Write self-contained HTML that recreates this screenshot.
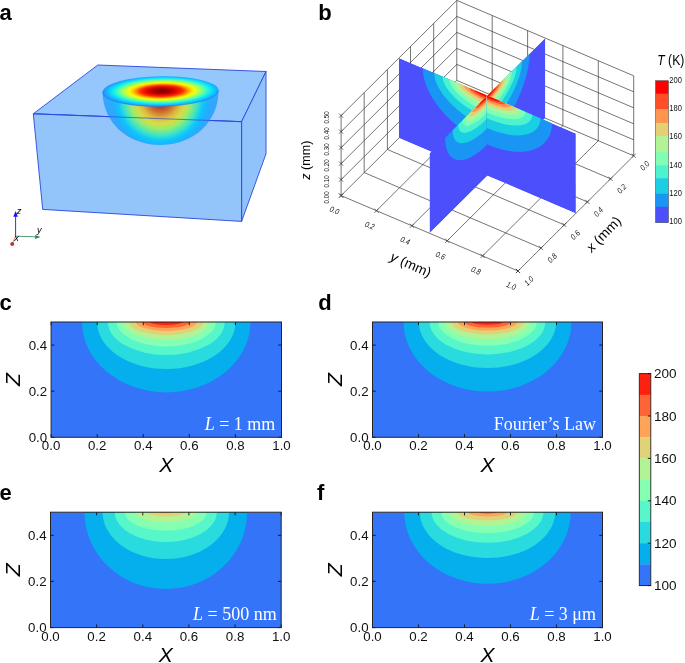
<!DOCTYPE html>
<html><head><meta charset="utf-8"><title>figure</title>
<style>
html,body{margin:0;padding:0;background:#fff;}
svg{display:block;will-change:transform;}
text{font-family:"Liberation Sans",sans-serif;fill:#000;}
.serif{font-family:"Liberation Serif",serif;fill:#fff;}
.lbl{font-weight:bold;font-size:22px;}
.tk{font-size:12.5px;fill:#111;}
.ax{font-size:21px;font-style:italic;}
.g{stroke:#3a3a3a;stroke-width:0.7;fill:none;}
.t3{font-size:8px;font-style:italic;fill:#111;}
</style></head><body>
<svg width="685" height="663" viewBox="0 0 685 663">
<rect x="0" y="0" width="685" height="663" fill="#fff"/>

<text class="lbl" x="-0.4" y="20.2">a</text>
<text class="lbl" x="318.3" y="20.2">b</text>
<text class="lbl" x="-0.4" y="310.3">c</text>
<text class="lbl" x="318.3" y="309.8">d</text>
<text class="lbl" x="-0.4" y="500.3">e</text>
<text class="lbl" x="317" y="500.3">f</text>
<defs>
<radialGradient id="gtop" cx="0.51" cy="0.49" r="0.5">
<stop offset="0" stop-color="#800000"/>
<stop offset="0.12" stop-color="#980000"/>
<stop offset="0.24" stop-color="#d80400"/>
<stop offset="0.36" stop-color="#ff2800"/>
<stop offset="0.44" stop-color="#ff8800"/>
<stop offset="0.51" stop-color="#ffd800"/>
<stop offset="0.57" stop-color="#f0ff10"/>
<stop offset="0.65" stop-color="#b0ff50"/>
<stop offset="0.73" stop-color="#60ffa0"/>
<stop offset="0.82" stop-color="#18f0e8"/>
<stop offset="0.91" stop-color="#0cc8ff"/>
<stop offset="1" stop-color="#2496fa"/>
</radialGradient>
<radialGradient id="gbowl" gradientUnits="userSpaceOnUse" cx="160.5" cy="100" r="50" gradientTransform="translate(160.5 100) scale(1 0.96) translate(-160.5 -100)">
<stop offset="0" stop-color="#b83418"/>
<stop offset="0.15" stop-color="#bc3e22"/>
<stop offset="0.27" stop-color="#d07830"/>
<stop offset="0.38" stop-color="#dcb83c"/>
<stop offset="0.49" stop-color="#d8dc44"/>
<stop offset="0.61" stop-color="#96ec6e"/>
<stop offset="0.74" stop-color="#3ce4c8"/>
<stop offset="0.85" stop-color="#0cc6fc"/>
<stop offset="0.94" stop-color="#20b0fe"/>
<stop offset="1" stop-color="#30a6fc"/>
</radialGradient>
<linearGradient id="gbowlshade" x1="0" y1="0" x2="0" y2="1">
<stop offset="0" stop-color="#5ab4fa" stop-opacity="0.2"/>
<stop offset="0.35" stop-color="#5ab4fa" stop-opacity="0"/>
</linearGradient>
</defs>

<polygon points="97.8,65.0 266.0,71.5 241.6,121.7 33.3,113.8" fill="#96c7fc" stroke="#2a46dc" stroke-width="0.9" stroke-linejoin="round"/>
<polygon points="241.6,121.7 266.0,71.5 266.0,153.8 241.6,221.4" fill="#90c3fb" stroke="#2a46dc" stroke-width="0.9" stroke-linejoin="round"/>
<polygon points="33.3,113.8 241.6,121.7 241.6,221.4 42.7,209.4" fill="#93c5fb" stroke="#2a46dc" stroke-width="0.9" stroke-linejoin="round"/>
<path d="M102.5,91.3 C102.5,121.3 126.5,145 160.5,145 C194.5,145 218.5,121.3 218.5,91.3 Z" fill="url(#gbowl)" transform="rotate(-1 160.5 91.3)"/>
<path d="M102.5,91.3 C102.5,121.3 126.5,145 160.5,145 C194.5,145 218.5,121.3 218.5,91.3 Z" fill="url(#gbowlshade)" transform="rotate(-1 160.5 91.3)"/>
<line x1="33.3" y1="113.8" x2="241.6" y2="121.7" stroke="#2a46dc" stroke-width="0.9" stroke-opacity="0.75"/>
<ellipse cx="160.5" cy="91.3" rx="58" ry="15.1" fill="url(#gtop)" transform="rotate(-1 160.5 91.3)"/>
<path d="M102.5,91.3 A58,15.1 0 0 0 218.5,91.3" fill="none" stroke="#1c6ee8" stroke-opacity="0.55" stroke-width="0.8" transform="rotate(-1 160.5 91.3)"/>
<line x1="15.6" y1="236.2" x2="15.6" y2="216" stroke="#1414ff" stroke-width="0.9"/>
<polygon points="15.6,211 13.3,216.8 17.9,216.8" fill="#1414ff"/>
<line x1="15.6" y1="236.2" x2="36" y2="236.8" stroke="#3c9068" stroke-width="0.9"/>
<polygon points="40.4,236.9 35.2,234.9 35.2,238.9" fill="#2e8b57"/>
<line x1="15.6" y1="236.2" x2="12.2" y2="243.9" stroke="#e07860" stroke-width="0.9"/>
<circle cx="12.2" cy="243.9" r="2" fill="#b83a2a"/>
<text x="16.8" y="213.8" style="font-size:9.2px;font-style:italic">z</text>
<text x="37" y="232.6" style="font-size:9.2px;font-style:italic">y</text>
<text x="14.2" y="241.4" style="font-size:9.2px;font-style:italic">x</text>
<path class="g" d="M456.8,80.4L633.7,155.8M456.8,80.4L341.1,195.6M456.8,80.4L456.8,0.4M433.7,103.4L610.6,178.8M492.2,95.5L376.5,210.7M433.7,103.4L433.7,23.4M492.2,95.5L492.2,15.5M410.5,126.5L587.4,201.9M527.6,110.6L411.9,225.8M410.5,126.5L410.5,46.5M527.6,110.6L527.6,30.6M387.4,149.5L564.3,224.9M562.9,125.6L447.2,240.8M387.4,149.5L387.4,69.5M562.9,125.6L562.9,45.6M364.2,172.6L541.1,248.0M598.3,140.7L482.6,255.9M364.2,172.6L364.2,92.6M598.3,140.7L598.3,60.7M341.1,195.6L518.0,271.0M633.7,155.8L518.0,271.0M341.1,195.6L341.1,115.6M633.7,155.8L633.7,75.8M456.8,64.4L341.1,179.6M456.8,64.4L633.7,139.8M456.8,48.4L341.1,163.6M456.8,48.4L633.7,123.8M456.8,32.4L341.1,147.6M456.8,32.4L633.7,107.8M456.8,16.4L341.1,131.6M456.8,16.4L633.7,91.8M456.8,0.4L341.1,115.6M456.8,0.4L633.7,75.8"/>
<path class="g" d="M339.0,193.5L343.2,197.7M339.0,197.7L343.2,193.5M339.0,193.5L343.2,197.7M339.0,197.7L343.2,193.5M515.9,268.9L520.1,273.1M515.9,273.1L520.1,268.9M339.0,177.5L343.2,181.7M339.0,181.7L343.2,177.5M374.4,208.6L378.6,212.8M374.4,212.8L378.6,208.6M539.0,245.9L543.2,250.1M539.0,250.1L543.2,245.9M339.0,161.5L343.2,165.7M339.0,165.7L343.2,161.5M409.8,223.7L414.0,227.9M409.8,227.9L414.0,223.7M562.2,222.8L566.4,227.0M562.2,227.0L566.4,222.8M339.0,145.5L343.2,149.7M339.0,149.7L343.2,145.5M445.1,238.7L449.3,242.9M445.1,242.9L449.3,238.7M585.3,199.8L589.5,204.0M585.3,204.0L589.5,199.8M339.0,129.5L343.2,133.7M339.0,133.7L343.2,129.5M480.5,253.8L484.7,258.0M480.5,258.0L484.7,253.8M608.5,176.7L612.7,180.9M608.5,180.9L612.7,176.7M339.0,113.5L343.2,117.7M339.0,117.7L343.2,113.5M515.9,268.9L520.1,273.1M515.9,273.1L520.1,268.9M631.6,153.7L635.8,157.9M631.6,157.9L635.8,153.7"/>
<clipPath id="cpx0"><rect x="0" y="0" width="0.5" height="0.5"/></clipPath><g transform="matrix(176.9 75.4 0.0 -160.0 398.95 138.00)"><g clip-path="url(#cpx0)"><rect x="0" y="0" width="0.5" height="0.5" fill="#4c4ffc"/><ellipse cx="0.5" cy="0.5" rx="0.3653" ry="0.3054" fill="#1996f3"/><ellipse cx="0.5" cy="0.5" rx="0.3002" ry="0.2039" fill="#1acee3"/><ellipse cx="0.5" cy="0.5" rx="0.2534" ry="0.1432" fill="#4df3ce"/><ellipse cx="0.5" cy="0.5" rx="0.2148" ry="0.1059" fill="#80ffb4"/><ellipse cx="0.5" cy="0.5" rx="0.1866" ry="0.0772" fill="#b2f396"/><ellipse cx="0.5" cy="0.5" rx="0.1605" ry="0.0564" fill="#e6ce74"/><ellipse cx="0.5" cy="0.5" rx="0.1323" ry="0.0390" fill="#ff964f"/><ellipse cx="0.5" cy="0.5" rx="0.1020" ry="0.0260" fill="#ff4f28"/><ellipse cx="0.5" cy="0.5" rx="0.0716" ry="0.0126" fill="#ff0000"/></g></g>
<clipPath id="cpy0"><rect x="0" y="0" width="0.5" height="0.5"/></clipPath><g transform="matrix(-115.7 115.2 0.0 -160.0 545.25 118.10)"><g clip-path="url(#cpy0)"><rect x="0" y="0" width="0.5" height="0.5" fill="#4c4ffc"/><ellipse cx="0.5" cy="0.5" rx="0.3653" ry="0.3054" fill="#1996f3"/><ellipse cx="0.5" cy="0.5" rx="0.3002" ry="0.2039" fill="#1acee3"/><ellipse cx="0.5" cy="0.5" rx="0.2534" ry="0.1432" fill="#4df3ce"/><ellipse cx="0.5" cy="0.5" rx="0.2148" ry="0.1059" fill="#80ffb4"/><ellipse cx="0.5" cy="0.5" rx="0.1866" ry="0.0772" fill="#b2f396"/><ellipse cx="0.5" cy="0.5" rx="0.1605" ry="0.0564" fill="#e6ce74"/><ellipse cx="0.5" cy="0.5" rx="0.1323" ry="0.0390" fill="#ff964f"/><ellipse cx="0.5" cy="0.5" rx="0.1020" ry="0.0260" fill="#ff4f28"/><ellipse cx="0.5" cy="0.5" rx="0.0716" ry="0.0126" fill="#ff0000"/></g></g>
<clipPath id="cpy1"><rect x="0.496" y="0" width="0.504" height="0.5"/></clipPath><g transform="matrix(-115.7 115.2 0.0 -160.0 545.25 118.10)"><g clip-path="url(#cpy1)"><rect x="0.496" y="0" width="0.504" height="0.5" fill="#4c4ffc"/><ellipse cx="0.5" cy="0.5" rx="0.3653" ry="0.3054" fill="#1996f3"/><ellipse cx="0.5" cy="0.5" rx="0.3002" ry="0.2039" fill="#1acee3"/><ellipse cx="0.5" cy="0.5" rx="0.2534" ry="0.1432" fill="#4df3ce"/><ellipse cx="0.5" cy="0.5" rx="0.2148" ry="0.1059" fill="#80ffb4"/><ellipse cx="0.5" cy="0.5" rx="0.1866" ry="0.0772" fill="#b2f396"/><ellipse cx="0.5" cy="0.5" rx="0.1605" ry="0.0564" fill="#e6ce74"/><ellipse cx="0.5" cy="0.5" rx="0.1323" ry="0.0390" fill="#ff964f"/><ellipse cx="0.5" cy="0.5" rx="0.1020" ry="0.0260" fill="#ff4f28"/><ellipse cx="0.5" cy="0.5" rx="0.0716" ry="0.0126" fill="#ff0000"/></g></g>
<clipPath id="cpx1"><rect x="0.496" y="0" width="0.504" height="0.5"/></clipPath><g transform="matrix(176.9 75.4 0.0 -160.0 398.95 138.00)"><g clip-path="url(#cpx1)"><rect x="0.496" y="0" width="0.504" height="0.5" fill="#4c4ffc"/><ellipse cx="0.5" cy="0.5" rx="0.3653" ry="0.3054" fill="#1996f3"/><ellipse cx="0.5" cy="0.5" rx="0.3002" ry="0.2039" fill="#1acee3"/><ellipse cx="0.5" cy="0.5" rx="0.2534" ry="0.1432" fill="#4df3ce"/><ellipse cx="0.5" cy="0.5" rx="0.2148" ry="0.1059" fill="#80ffb4"/><ellipse cx="0.5" cy="0.5" rx="0.1866" ry="0.0772" fill="#b2f396"/><ellipse cx="0.5" cy="0.5" rx="0.1605" ry="0.0564" fill="#e6ce74"/><ellipse cx="0.5" cy="0.5" rx="0.1323" ry="0.0390" fill="#ff964f"/><ellipse cx="0.5" cy="0.5" rx="0.1020" ry="0.0260" fill="#ff4f28"/><ellipse cx="0.5" cy="0.5" rx="0.0716" ry="0.0126" fill="#ff0000"/></g></g>
<text class="t3" style="font-style:normal" transform="translate(329.2 197.4) rotate(-90)" text-anchor="middle" textLength="12" lengthAdjust="spacingAndGlyphs">0.00</text>
<text class="t3" style="font-style:normal" transform="translate(329.2 181.4) rotate(-90)" text-anchor="middle" textLength="12" lengthAdjust="spacingAndGlyphs">0.10</text>
<text class="t3" style="font-style:normal" transform="translate(329.2 165.4) rotate(-90)" text-anchor="middle" textLength="12" lengthAdjust="spacingAndGlyphs">0.20</text>
<text class="t3" style="font-style:normal" transform="translate(329.2 149.4) rotate(-90)" text-anchor="middle" textLength="12" lengthAdjust="spacingAndGlyphs">0.30</text>
<text class="t3" style="font-style:normal" transform="translate(329.2 133.4) rotate(-90)" text-anchor="middle" textLength="12" lengthAdjust="spacingAndGlyphs">0.40</text>
<text class="t3" style="font-style:normal" transform="translate(329.2 117.4) rotate(-90)" text-anchor="middle" textLength="12" lengthAdjust="spacingAndGlyphs">0.50</text>
<text class="t3" transform="translate(334.4 210.4) rotate(23)" text-anchor="middle" y="2.7" textLength="9.5" lengthAdjust="spacingAndGlyphs">0.0</text>
<text class="t3" transform="translate(369.8 225.5) rotate(23)" text-anchor="middle" y="2.7" textLength="9.5" lengthAdjust="spacingAndGlyphs">0.2</text>
<text class="t3" transform="translate(405.2 240.6) rotate(23)" text-anchor="middle" y="2.7" textLength="9.5" lengthAdjust="spacingAndGlyphs">0.4</text>
<text class="t3" transform="translate(440.5 255.6) rotate(23)" text-anchor="middle" y="2.7" textLength="9.5" lengthAdjust="spacingAndGlyphs">0.6</text>
<text class="t3" transform="translate(475.9 270.7) rotate(23)" text-anchor="middle" y="2.7" textLength="9.5" lengthAdjust="spacingAndGlyphs">0.8</text>
<text class="t3" transform="translate(511.3 285.8) rotate(23)" text-anchor="middle" y="2.7" textLength="9.5" lengthAdjust="spacingAndGlyphs">1.0</text>
<text class="t3" transform="translate(644.7 165.8) rotate(-45)" text-anchor="middle" y="2.7" textLength="9.5" lengthAdjust="spacingAndGlyphs">0.0</text>
<text class="t3" transform="translate(621.6 188.8) rotate(-45)" text-anchor="middle" y="2.7" textLength="9.5" lengthAdjust="spacingAndGlyphs">0.2</text>
<text class="t3" transform="translate(598.4 211.9) rotate(-45)" text-anchor="middle" y="2.7" textLength="9.5" lengthAdjust="spacingAndGlyphs">0.4</text>
<text class="t3" transform="translate(575.3 234.9) rotate(-45)" text-anchor="middle" y="2.7" textLength="9.5" lengthAdjust="spacingAndGlyphs">0.6</text>
<text class="t3" transform="translate(552.1 258.0) rotate(-45)" text-anchor="middle" y="2.7" textLength="9.5" lengthAdjust="spacingAndGlyphs">0.8</text>
<text class="t3" transform="translate(529.0 281.0) rotate(-45)" text-anchor="middle" y="2.7" textLength="9.5" lengthAdjust="spacingAndGlyphs">1.0</text>
<text transform="translate(310.3 160.2) rotate(-90)" text-anchor="middle" style="font-size:12.5px" textLength="39" lengthAdjust="spacingAndGlyphs"><tspan style="font-style:italic">z</tspan> (mm)</text>
<text transform="translate(410.2 266) rotate(24)" text-anchor="middle" y="3" style="font-size:13.5px" textLength="43" lengthAdjust="spacingAndGlyphs"><tspan style="font-style:italic">y</tspan> (mm)</text>
<text transform="translate(604 234.6) rotate(-46)" text-anchor="middle" y="4" style="font-size:13.5px" textLength="43.5" lengthAdjust="spacingAndGlyphs"><tspan style="font-style:italic">x</tspan> (mm)</text>
<rect x="655.5" y="80.7" width="13" height="13.3" fill="#ff0000"/>
<rect x="655.5" y="93.7" width="13" height="16.0" fill="#ff4f28"/>
<rect x="655.5" y="109.4" width="13" height="13.9" fill="#ff964f"/>
<rect x="655.5" y="123" width="13" height="13.2" fill="#e6ce74"/>
<rect x="655.5" y="135.9" width="13" height="16.0" fill="#b2f396"/>
<rect x="655.5" y="151.6" width="13" height="13.9" fill="#80ffb4"/>
<rect x="655.5" y="165.2" width="13" height="13.3" fill="#4df3ce"/>
<rect x="655.5" y="178.2" width="13" height="15.9" fill="#1acee3"/>
<rect x="655.5" y="193.8" width="13" height="13.3" fill="#1996f3"/>
<rect x="655.5" y="206.8" width="13" height="16.0" fill="#4c4ffc"/>
<rect x="655.5" y="80.7" width="13" height="141.8" fill="none" stroke="#555" stroke-width="0.6"/>
<text x="669.3" y="82.5" style="font-size:9.3px;fill:#111" textLength="12.6" lengthAdjust="spacingAndGlyphs">200</text>
<text x="669.3" y="110.9" style="font-size:9.3px;fill:#111" textLength="12.6" lengthAdjust="spacingAndGlyphs">180</text>
<text x="669.3" y="139.2" style="font-size:9.3px;fill:#111" textLength="12.6" lengthAdjust="spacingAndGlyphs">160</text>
<text x="669.3" y="167.6" style="font-size:9.3px;fill:#111" textLength="12.6" lengthAdjust="spacingAndGlyphs">140</text>
<text x="669.3" y="195.9" style="font-size:9.3px;fill:#111" textLength="12.6" lengthAdjust="spacingAndGlyphs">120</text>
<text x="669.3" y="224.3" style="font-size:9.3px;fill:#111" textLength="12.6" lengthAdjust="spacingAndGlyphs">100</text>
<text x="657.3" y="64.5" style="font-size:14.4px" textLength="27" lengthAdjust="spacingAndGlyphs"><tspan style="font-style:italic">T</tspan> (K)</text>
<clipPath id="cpc"><rect x="51.1" y="322.0" width="230.4" height="115.3"/></clipPath>
<g clip-path="url(#cpc)"><rect x="51.1" y="322.0" width="230.4" height="115.3" fill="#3374f8"/>
<ellipse cx="166.3" cy="322.0" rx="84.2" ry="70.4" fill="#05afed"/>
<ellipse cx="166.3" cy="322.0" rx="69.2" ry="47" fill="#29dbde"/>
<ellipse cx="166.3" cy="322.0" rx="58.4" ry="33" fill="#57f7c9"/>
<ellipse cx="166.3" cy="322.0" rx="49.5" ry="24.4" fill="#85ffb1"/>
<ellipse cx="166.3" cy="322.0" rx="43" ry="17.8" fill="#b2f396"/>
<ellipse cx="166.3" cy="322.0" rx="37" ry="13" fill="#e0d377"/>
<ellipse cx="166.3" cy="322.0" rx="30.5" ry="9" fill="#ffa356"/>
<ellipse cx="166.3" cy="322.0" rx="23.5" ry="6" fill="#ff6534"/>
<ellipse cx="166.3" cy="322.0" rx="16.5" ry="2.9" fill="#ff2010"/>
</g>
<path d="M51.1,437.3v-3.2M51.1,322.0v3.2M97.2,437.3v-3.2M97.2,322.0v3.2M143.3,437.3v-3.2M143.3,322.0v3.2M189.3,437.3v-3.2M189.3,322.0v3.2M235.4,437.3v-3.2M235.4,322.0v3.2M281.5,437.3v-3.2M281.5,322.0v3.2M51.1,437.3h3.2M281.5,437.3h-3.2M51.1,391.2h3.2M281.5,391.2h-3.2M51.1,345.1h3.2M281.5,345.1h-3.2" stroke="#111" stroke-width="0.9" fill="none"/>
<rect x="51.1" y="322.0" width="230.4" height="115.3" fill="none" stroke="#222" stroke-width="1"/>
<text class="tk" x="51.1" y="450.2" text-anchor="middle" textLength="18.5" lengthAdjust="spacingAndGlyphs">0.0</text>
<text class="tk" x="97.2" y="450.2" text-anchor="middle" textLength="18.5" lengthAdjust="spacingAndGlyphs">0.2</text>
<text class="tk" x="143.3" y="450.2" text-anchor="middle" textLength="18.5" lengthAdjust="spacingAndGlyphs">0.4</text>
<text class="tk" x="189.3" y="450.2" text-anchor="middle" textLength="18.5" lengthAdjust="spacingAndGlyphs">0.6</text>
<text class="tk" x="235.4" y="450.2" text-anchor="middle" textLength="18.5" lengthAdjust="spacingAndGlyphs">0.8</text>
<text class="tk" x="281.5" y="450.2" text-anchor="middle" textLength="18.5" lengthAdjust="spacingAndGlyphs">1.0</text>
<text class="tk" x="47.2" y="441.9" text-anchor="end" textLength="18.5" lengthAdjust="spacingAndGlyphs">0.0</text>
<text class="tk" x="47.2" y="395.8" text-anchor="end" textLength="18.5" lengthAdjust="spacingAndGlyphs">0.2</text>
<text class="tk" x="47.2" y="349.7" text-anchor="end" textLength="18.5" lengthAdjust="spacingAndGlyphs">0.4</text>
<text class="ax" x="166.3" y="471.6" text-anchor="middle">X</text>
<text class="ax" transform="translate(20.4 379.6) rotate(-90)" text-anchor="middle">Z</text>
<text class="serif" x="275.3" y="429.6" text-anchor="end" style="font-size:18px"><tspan font-style="italic">L</tspan> = 1 mm</text>
<clipPath id="cpd"><rect x="372.5" y="322.0" width="230.0" height="115.3"/></clipPath>
<g clip-path="url(#cpd)"><rect x="372.5" y="322.0" width="230.0" height="115.3" fill="#3374f8"/>
<ellipse cx="487.5" cy="322.0" rx="84" ry="69.5" fill="#05afed"/>
<ellipse cx="487.5" cy="322.0" rx="68.6" ry="46" fill="#29dbde"/>
<ellipse cx="487.5" cy="322.0" rx="57.8" ry="32.4" fill="#57f7c9"/>
<ellipse cx="487.5" cy="322.0" rx="49.2" ry="23.8" fill="#85ffb1"/>
<ellipse cx="487.5" cy="322.0" rx="42.3" ry="17.3" fill="#b2f396"/>
<ellipse cx="487.5" cy="322.0" rx="36.3" ry="12.5" fill="#e0d377"/>
<ellipse cx="487.5" cy="322.0" rx="29.8" ry="8.6" fill="#ffa356"/>
<ellipse cx="487.5" cy="322.0" rx="23" ry="5.6" fill="#ff6534"/>
<ellipse cx="487.5" cy="322.0" rx="15.8" ry="2.7" fill="#ff2010"/>
</g>
<path d="M372.5,437.3v-3.2M372.5,322.0v3.2M418.5,437.3v-3.2M418.5,322.0v3.2M464.5,437.3v-3.2M464.5,322.0v3.2M510.5,437.3v-3.2M510.5,322.0v3.2M556.5,437.3v-3.2M556.5,322.0v3.2M602.5,437.3v-3.2M602.5,322.0v3.2M372.5,437.3h3.2M602.5,437.3h-3.2M372.5,391.2h3.2M602.5,391.2h-3.2M372.5,345.1h3.2M602.5,345.1h-3.2" stroke="#111" stroke-width="0.9" fill="none"/>
<rect x="372.5" y="322.0" width="230.0" height="115.3" fill="none" stroke="#222" stroke-width="1"/>
<text class="tk" x="372.5" y="450.2" text-anchor="middle" textLength="18.5" lengthAdjust="spacingAndGlyphs">0.0</text>
<text class="tk" x="418.5" y="450.2" text-anchor="middle" textLength="18.5" lengthAdjust="spacingAndGlyphs">0.2</text>
<text class="tk" x="464.5" y="450.2" text-anchor="middle" textLength="18.5" lengthAdjust="spacingAndGlyphs">0.4</text>
<text class="tk" x="510.5" y="450.2" text-anchor="middle" textLength="18.5" lengthAdjust="spacingAndGlyphs">0.6</text>
<text class="tk" x="556.5" y="450.2" text-anchor="middle" textLength="18.5" lengthAdjust="spacingAndGlyphs">0.8</text>
<text class="tk" x="602.5" y="450.2" text-anchor="middle" textLength="18.5" lengthAdjust="spacingAndGlyphs">1.0</text>
<text class="tk" x="368.6" y="441.9" text-anchor="end" textLength="18.5" lengthAdjust="spacingAndGlyphs">0.0</text>
<text class="tk" x="368.6" y="395.8" text-anchor="end" textLength="18.5" lengthAdjust="spacingAndGlyphs">0.2</text>
<text class="tk" x="368.6" y="349.7" text-anchor="end" textLength="18.5" lengthAdjust="spacingAndGlyphs">0.4</text>
<text class="ax" x="487.5" y="471.6" text-anchor="middle">X</text>
<text class="ax" transform="translate(341.8 379.6) rotate(-90)" text-anchor="middle">Z</text>
<text class="serif" x="596" y="429.6" text-anchor="end" style="font-size:18px">Fourier’s Law</text>
<clipPath id="cpe"><rect x="50.5" y="512.2" width="230.7" height="115.4"/></clipPath>
<g clip-path="url(#cpe)"><rect x="50.5" y="512.2" width="230.7" height="115.4" fill="#3374f8"/>
<ellipse cx="165.8" cy="512.2" rx="81.3" ry="76.9" fill="#05afed"/>
<ellipse cx="165.8" cy="512.2" rx="63.2" ry="46.8" fill="#29dbde"/>
<ellipse cx="165.8" cy="512.2" rx="51" ry="29.8" fill="#57f7c9"/>
<ellipse cx="165.8" cy="512.2" rx="41" ry="18.5" fill="#85ffb1"/>
<ellipse cx="165.8" cy="512.2" rx="30.7" ry="10" fill="#b2f396"/>
<ellipse cx="165.8" cy="512.2" rx="19" ry="4.2" fill="#e0d377"/>
<ellipse cx="165.8" cy="512.2" rx="6" ry="1" fill="#ffa356"/>
</g>
<path d="M50.5,627.6v-3.2M50.5,512.2v3.2M96.6,627.6v-3.2M96.6,512.2v3.2M142.8,627.6v-3.2M142.8,512.2v3.2M188.9,627.6v-3.2M188.9,512.2v3.2M235.1,627.6v-3.2M235.1,512.2v3.2M281.2,627.6v-3.2M281.2,512.2v3.2M50.5,627.6h3.2M281.2,627.6h-3.2M50.5,581.4h3.2M281.2,581.4h-3.2M50.5,535.3h3.2M281.2,535.3h-3.2" stroke="#111" stroke-width="0.9" fill="none"/>
<rect x="50.5" y="512.2" width="230.7" height="115.4" fill="none" stroke="#222" stroke-width="1"/>
<text class="tk" x="50.5" y="640.5" text-anchor="middle" textLength="18.5" lengthAdjust="spacingAndGlyphs">0.0</text>
<text class="tk" x="96.6" y="640.5" text-anchor="middle" textLength="18.5" lengthAdjust="spacingAndGlyphs">0.2</text>
<text class="tk" x="142.8" y="640.5" text-anchor="middle" textLength="18.5" lengthAdjust="spacingAndGlyphs">0.4</text>
<text class="tk" x="188.9" y="640.5" text-anchor="middle" textLength="18.5" lengthAdjust="spacingAndGlyphs">0.6</text>
<text class="tk" x="235.1" y="640.5" text-anchor="middle" textLength="18.5" lengthAdjust="spacingAndGlyphs">0.8</text>
<text class="tk" x="281.2" y="640.5" text-anchor="middle" textLength="18.5" lengthAdjust="spacingAndGlyphs">1.0</text>
<text class="tk" x="46.6" y="632.2" text-anchor="end" textLength="18.5" lengthAdjust="spacingAndGlyphs">0.0</text>
<text class="tk" x="46.6" y="586.0" text-anchor="end" textLength="18.5" lengthAdjust="spacingAndGlyphs">0.2</text>
<text class="tk" x="46.6" y="539.9" text-anchor="end" textLength="18.5" lengthAdjust="spacingAndGlyphs">0.4</text>
<text class="ax" x="165.8" y="661.9" text-anchor="middle">X</text>
<text class="ax" transform="translate(19.8 569.9) rotate(-90)" text-anchor="middle">Z</text>
<text class="serif" x="276.7" y="620.4" text-anchor="end" style="font-size:18px"><tspan font-style="italic">L</tspan> = 500 nm</text>
<clipPath id="cpf"><rect x="372.5" y="512.2" width="230.0" height="115.4"/></clipPath>
<g clip-path="url(#cpf)"><rect x="372.5" y="512.2" width="230.0" height="115.4" fill="#3374f8"/>
<ellipse cx="487.5" cy="512.2" rx="83.2" ry="71.6" fill="#05afed"/>
<ellipse cx="487.5" cy="512.2" rx="67.6" ry="45.9" fill="#29dbde"/>
<ellipse cx="487.5" cy="512.2" rx="55.9" ry="30.5" fill="#57f7c9"/>
<ellipse cx="487.5" cy="512.2" rx="46.4" ry="20.8" fill="#85ffb1"/>
<ellipse cx="487.5" cy="512.2" rx="38" ry="13.8" fill="#b2f396"/>
<ellipse cx="487.5" cy="512.2" rx="29.5" ry="8.3" fill="#e0d377"/>
<ellipse cx="487.5" cy="512.2" rx="19" ry="4.4" fill="#ffa356"/>
<ellipse cx="487.5" cy="512.2" rx="9" ry="1.6" fill="#ff6534"/>
</g>
<path d="M372.5,627.6v-3.2M372.5,512.2v3.2M418.5,627.6v-3.2M418.5,512.2v3.2M464.5,627.6v-3.2M464.5,512.2v3.2M510.5,627.6v-3.2M510.5,512.2v3.2M556.5,627.6v-3.2M556.5,512.2v3.2M602.5,627.6v-3.2M602.5,512.2v3.2M372.5,627.6h3.2M602.5,627.6h-3.2M372.5,581.4h3.2M602.5,581.4h-3.2M372.5,535.3h3.2M602.5,535.3h-3.2" stroke="#111" stroke-width="0.9" fill="none"/>
<rect x="372.5" y="512.2" width="230.0" height="115.4" fill="none" stroke="#222" stroke-width="1"/>
<text class="tk" x="372.5" y="640.5" text-anchor="middle" textLength="18.5" lengthAdjust="spacingAndGlyphs">0.0</text>
<text class="tk" x="418.5" y="640.5" text-anchor="middle" textLength="18.5" lengthAdjust="spacingAndGlyphs">0.2</text>
<text class="tk" x="464.5" y="640.5" text-anchor="middle" textLength="18.5" lengthAdjust="spacingAndGlyphs">0.4</text>
<text class="tk" x="510.5" y="640.5" text-anchor="middle" textLength="18.5" lengthAdjust="spacingAndGlyphs">0.6</text>
<text class="tk" x="556.5" y="640.5" text-anchor="middle" textLength="18.5" lengthAdjust="spacingAndGlyphs">0.8</text>
<text class="tk" x="602.5" y="640.5" text-anchor="middle" textLength="18.5" lengthAdjust="spacingAndGlyphs">1.0</text>
<text class="tk" x="368.6" y="632.2" text-anchor="end" textLength="18.5" lengthAdjust="spacingAndGlyphs">0.0</text>
<text class="tk" x="368.6" y="586.0" text-anchor="end" textLength="18.5" lengthAdjust="spacingAndGlyphs">0.2</text>
<text class="tk" x="368.6" y="539.9" text-anchor="end" textLength="18.5" lengthAdjust="spacingAndGlyphs">0.4</text>
<text class="ax" x="487.5" y="661.9" text-anchor="middle">X</text>
<text class="ax" transform="translate(341.8 569.9) rotate(-90)" text-anchor="middle">Z</text>
<text class="serif" x="596" y="620.4" text-anchor="end" style="font-size:18px"><tspan font-style="italic">L</tspan> = 3 μm</text>
<rect x="639.3" y="373.6" width="11.5" height="21.5" fill="#ff2010"/>
<rect x="639.3" y="394.8" width="11.5" height="21.5" fill="#ff6534"/>
<rect x="639.3" y="416.0" width="11.5" height="21.5" fill="#ffa356"/>
<rect x="639.3" y="437.2" width="11.5" height="21.5" fill="#e0d377"/>
<rect x="639.3" y="458.4" width="11.5" height="21.5" fill="#b2f396"/>
<rect x="639.3" y="479.6" width="11.5" height="21.5" fill="#85ffb1"/>
<rect x="639.3" y="500.8" width="11.5" height="21.5" fill="#57f7c9"/>
<rect x="639.3" y="522.0" width="11.5" height="21.5" fill="#29dbde"/>
<rect x="639.3" y="543.2" width="11.5" height="21.5" fill="#05afed"/>
<rect x="639.3" y="564.4" width="11.5" height="21.5" fill="#3374f8"/>
<rect x="639.3" y="373.6" width="11.5" height="212.0" fill="none" stroke="#222" stroke-width="0.9"/>
<text class="tk" x="654" y="378.2" textLength="22.6" lengthAdjust="spacingAndGlyphs">200</text>
<text class="tk" x="654" y="420.6" textLength="22.6" lengthAdjust="spacingAndGlyphs">180</text>
<text class="tk" x="654" y="463.0" textLength="22.6" lengthAdjust="spacingAndGlyphs">160</text>
<text class="tk" x="654" y="505.4" textLength="22.6" lengthAdjust="spacingAndGlyphs">140</text>
<text class="tk" x="654" y="547.8" textLength="22.6" lengthAdjust="spacingAndGlyphs">120</text>
<text class="tk" x="654" y="590.2" textLength="22.6" lengthAdjust="spacingAndGlyphs">100</text>
<path d="M650.8,373.6h-3M650.8,416.0h-3M650.8,458.4h-3M650.8,500.8h-3M650.8,543.2h-3M650.8,585.6h-3" stroke="#111" stroke-width="0.9" fill="none"/>
</svg></body></html>
